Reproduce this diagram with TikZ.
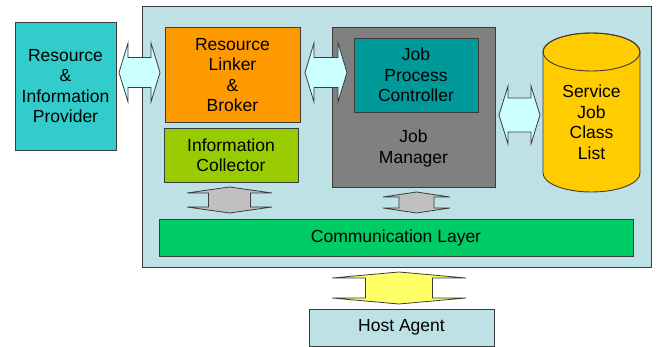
\documentclass[tikz,border=0pt]{standalone}
\usepackage{fontspec}
\setmainfont{Liberation Sans}
\usetikzlibrary{calc}

\definecolor{paneBlue}{RGB}{190,225,229}
\definecolor{provTeal}{RGB}{51,204,204}
\definecolor{brokerOrange}{RGB}{255,153,0}
\definecolor{collectGreen}{RGB}{153,204,0}
\definecolor{managerGray}{RGB}{128,128,128}
\definecolor{ctrlTeal}{RGB}{0,153,153}
\definecolor{listGold}{RGB}{255,204,0}
\definecolor{commGreen}{RGB}{0,204,102}
\definecolor{arrowCyan}{RGB}{204,255,255}
\definecolor{arrowGray}{RGB}{192,192,192}
\definecolor{arrowYellow}{RGB}{255,255,102}
\definecolor{edgeGray}{RGB}{60,60,60}

% horizontal double block arrow between two tip coordinates
% #1 left tip, #2 right tip, #3 shaft half height, #4 head half height, #5 head length, #6 fill
\newcommand\blockarrowh[6]{%
  \path[blockarrow,fill=#6] let \p1=(#1), \p2=(#2) in
    (\x1,\y1) -- (\x1+#5pt,\y1+#4pt) -- (\x1+#5pt,\y1+#3pt) -- (\x2-#5pt,\y1+#3pt)
    -- (\x2-#5pt,\y1+#4pt) -- (\x2,\y1) -- (\x2-#5pt,\y1-#4pt) -- (\x2-#5pt,\y1-#3pt)
    -- (\x1+#5pt,\y1-#3pt) -- (\x1+#5pt,\y1-#4pt) -- cycle;}
% vertical double block arrow between two tip coordinates (#1 upper, #2 lower)
\newcommand\blockarrowv[6]{%
  \path[blockarrow,fill=#6] let \p1=(#1), \p2=(#2) in
    (\x1,\y1) -- (\x1+#4pt,\y1-#5pt) -- (\x1+#3pt,\y1-#5pt) -- (\x1+#3pt,\y2+#5pt)
    -- (\x1+#4pt,\y2+#5pt) -- (\x1,\y2) -- (\x1-#4pt,\y2+#5pt) -- (\x1-#3pt,\y2+#5pt)
    -- (\x1-#3pt,\y1-#5pt) -- (\x1-#4pt,\y1-#5pt) -- cycle;}

\begin{document}
\begin{tikzpicture}[x=1pt,y=-1pt,
  box/.style={draw=edgeGray,line width=0.9pt,align=center,inner sep=0pt,
    font=\fontsize{17.5}{20.5}\selectfont},
  label/.style={align=center,inner sep=0pt,font=\fontsize{17.5}{20.5}\selectfont},
  blockarrow/.style={draw=edgeGray,line width=0.8pt,line join=miter}]
\useasboundingbox (0,0) rectangle (659,347);

% outer pane
\node[box,fill=paneBlue,minimum width=509pt,minimum height=261pt] (pane) at (396.5,136.5) {};

% components
\node[box,fill=provTeal,minimum width=101pt,minimum height=128pt] (prov) at (65.5,86)
  {Resource\\\&\\Information\\Provider};
\node[box,fill=brokerOrange,minimum width=135pt,minimum height=95pt] (broker) at (232.5,75)
  {Resource\\Linker\\\&\\Broker};
\node[box,fill=collectGreen,minimum width=134pt,minimum height=54pt] (collect) at (231,155)
  {Information\\Collector};
\node[box,fill=managerGray,minimum width=163pt,minimum height=160pt] (manager) at (413.5,107) {};
\node[label] (managertext) at (413.5,148.5) {Job\\Manager};
\node[box,fill=ctrlTeal,minimum width=124pt,minimum height=74pt] (ctrl) at (416,75)
  {Job\\Process\\Controller};
\node[box,fill=commGreen,minimum width=474pt,minimum height=37pt] (comm) at (396,237.5)
  {Communication Layer};
\node[box,fill=paneBlue,minimum width=185pt,minimum height=37pt] (host) at (401.5,327.5)
  {Host Agent};

% service job class list (cylinder)
\path[fill=listGold,draw=edgeGray,line width=0.9pt]
  (543,52) -- (543,173) arc[start angle=180,end angle=360,x radius=48.5pt,y radius=19pt]
  -- (640,52) arc[start angle=0,end angle=180,x radius=48.5pt,y radius=19pt] -- cycle;
\draw[draw=edgeGray,line width=0.9pt] (591.5,52) ellipse[x radius=48.5pt,y radius=19pt];
\node[label] (list) at (591.5,122) {Service\\Job\\Class\\List};

% block arrows
\coordinate (a1l) at (119,72.5);   \coordinate (a1r) at (160,72.5);
\coordinate (a2l) at (305,72.5);   \coordinate (a2r) at (347,72.5);
\coordinate (a3l) at (499,115);    \coordinate (a3r) at (540,115);
\coordinate (a4t) at (229.5,187);  \coordinate (a4b) at (229.5,213);
\coordinate (a5t) at (416.5,192);  \coordinate (a5b) at (416.5,213);
\coordinate (a6t) at (399,272);    \coordinate (a6b) at (399,304);

\blockarrowh{a1l}{a1r}{15}{29.5}{9}{arrowCyan}
\blockarrowh{a2l}{a2r}{15}{29.5}{9}{arrowCyan}
\blockarrowh{a3l}{a3r}{17}{29}{9}{arrowCyan}
\blockarrowv{a4t}{a4b}{21}{42.5}{6}{arrowGray}
\blockarrowv{a5t}{a5b}{17.5}{33.5}{5}{arrowGray}
\blockarrowv{a6t}{a6b}{33.5}{67}{6}{arrowYellow}
\end{tikzpicture}
\end{document}
